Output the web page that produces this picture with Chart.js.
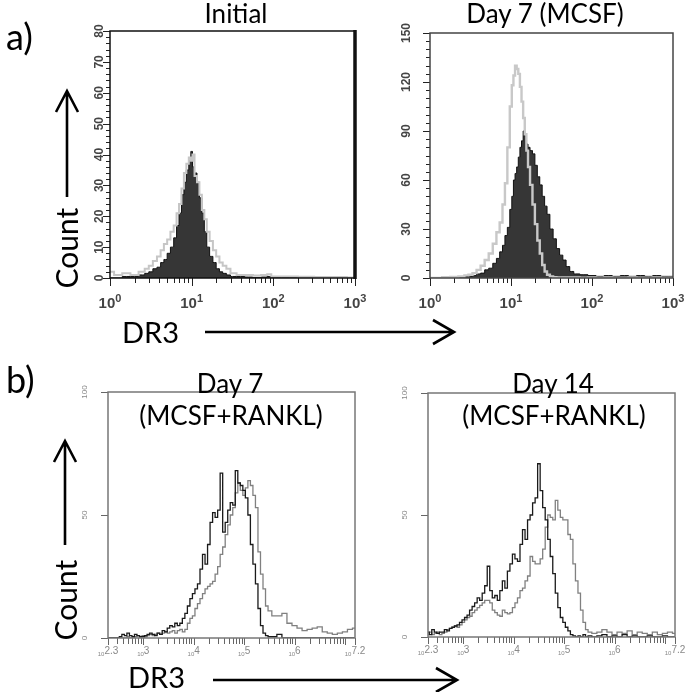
<!DOCTYPE html>
<html>
<head>
<meta charset="utf-8">
<script src="https://cdn.jsdelivr.net/npm/chart.js@4.4.1/dist/chart.umd.min.js"></script>
<style>
  body { margin: 0; background: #fff; }
  #fig { position: relative; width: 692px; height: 692px; overflow: hidden; font-family: Lato, "Open Sans", sans-serif; color: #000; }
  #fig canvas { position: absolute; left: 0; top: 0; }
  #fig svg { position: absolute; left: 0; top: 0; }
  .t { position: absolute; white-space: nowrap; line-height: 1; }
  .title { font-size: 26px; transform: translateX(-50%); }
  .tag { font-size: 36px; }
  .axl { font-size: 29px; }
  .cnt { font-size: 30px; transform: translate(-50%, -50%) rotate(-90deg); }
</style>
</head>
<body>
<div id="fig">
  <canvas id="aLeft" width="692" height="692"></canvas>
  <canvas id="aRight" width="692" height="692"></canvas>
  <canvas id="bLeft" width="692" height="692"></canvas>
  <canvas id="bRight" width="692" height="692"></canvas>

  <svg width="692" height="692" fill="none" stroke="#000" stroke-width="2.6">
    <path d="M67 197 V91 M56 112 L67 91 L78 112"/>
    <path d="M205 332 H454 M433 320 L454 332 L433 344"/>
    <path d="M65 545 V441 M54 462 L65 441 L76 462"/>
    <path d="M213 680 H457 M436 668 L457 680 L436 692"/>
  </svg>

  <div class="t tag" style="left:6px; top:18px;">a)</div>
  <div class="t tag" style="left:6px; top:361px;">b)</div>
  <div class="t title" style="left:236px; top:0px;">Initial</div>
  <div class="t title" style="left:545px; top:0px;">Day 7 (MCSF)</div>
  <div class="t title" style="left:230px; top:370px;">Day 7</div>
  <div class="t title" style="left:231px; top:402px;">(MCSF+RANKL)</div>
  <div class="t title" style="left:553px; top:370px;">Day 14</div>
  <div class="t title" style="left:554px; top:402px;">(MCSF+RANKL)</div>
  <div class="t cnt" style="left:66px; top:248px;">Count</div>
  <div class="t cnt" style="left:65px; top:600px;">Count</div>
  <div class="t axl" style="left:122px; top:317px;">DR3</div>
  <div class="t axl" style="left:128px; top:662px;">DR3</div>
</div>

<script>
// DR3 channel positions, as powers of ten
const aLeftBins = [0, 0.1, 0.2, 0.3, 0.4, 0.45, 0.5, 0.55, 0.6, 0.64, 0.68, 0.72, 0.76, 0.8, 0.83, 0.86, 0.89, 0.92, 0.95, 0.98,
  1.0, 1.02, 1.05, 1.08, 1.11, 1.14, 1.17, 1.2, 1.24, 1.28, 1.32, 1.36, 1.4, 1.45, 1.5, 1.6, 1.7, 1.8, 1.9, 1.95, 2.0, 2.2, 2.4, 2.6, 2.8, 3.0];
const aRightBins = [0, 0.1, 0.2, 0.3, 0.4, 0.45, 0.5, 0.55, 0.6, 0.65, 0.7, 0.75, 0.8, 0.84, 0.88, 0.91, 0.94, 0.97,
  1.0, 1.02, 1.04, 1.06, 1.08, 1.1, 1.12, 1.14, 1.16, 1.18, 1.2, 1.22, 1.25, 1.28, 1.31, 1.34, 1.37, 1.4, 1.43, 1.46,
  1.5, 1.54, 1.58, 1.62, 1.66, 1.7, 1.75, 1.8, 1.9, 2.0, 2.1, 2.2, 2.3, 2.4, 2.5, 2.6, 2.7, 2.8, 2.9, 3.0];
const bBins = [2.3, 2.35, 2.4, 2.45, 2.5, 2.55, 2.6, 2.65, 2.7, 2.75, 2.8, 2.85, 2.9, 2.95, 3.0, 3.05, 3.1, 3.15, 3.2, 3.25,
  3.3, 3.35, 3.4, 3.45, 3.5, 3.55, 3.6, 3.65, 3.7, 3.75, 3.8, 3.85, 3.9, 3.95, 4.0, 4.05, 4.1, 4.15, 4.2, 4.25, 4.3, 4.35,
  4.4, 4.45, 4.5, 4.55, 4.6, 4.65, 4.7, 4.75, 4.8, 4.85, 4.9, 4.95, 5.0, 5.05, 5.1, 5.15, 5.2, 5.25, 5.3, 5.35, 5.4, 5.45,
  5.5, 5.6, 5.7, 5.8, 5.9, 6.0, 6.1, 6.2, 6.3, 6.4, 6.5, 6.6, 6.7, 6.8, 6.9, 7.0, 7.1, 7.2];

// counts
const initialStained = [0, 0, 0.5, 0.5, 1, 1.5, 2, 3, 3.5, 5, 6, 8, 10, 13, 17, 21, 27, 31, 35, 38,
  41, 36, 34, 31, 26, 21, 15, 10, 7, 5, 3, 2, 1.5, 1, 0.5, 0.5, 0.3, 0.2, 0.3, 0.5, 0.2, 0.2, 0, 0, 0, 0];
const initialControl = [2, 1, 1.5, 1, 2, 3, 4, 5.5, 7, 9, 11, 12.5, 15, 17, 21, 24, 29, 34, 37, 39,
  38, 40, 33, 31, 27, 22, 19, 15, 12, 9, 7, 5, 4, 3, 1.5, 1, 1, 0.8, 1, 1.2, 0.5, 0.5, 0.4, 0.3, 0.3, 0.2];
const mcsfStained = [0, 0, 0.3, 0.5, 0.8, 1, 1, 1.5, 2.5, 3, 5, 6, 9, 12, 16, 20, 26, 31,
  42, 50, 60, 64, 68, 74, 80, 84, 90, 87, 82, 80, 78, 76, 69, 62, 57, 50, 44, 39,
  30, 24, 18, 14, 11, 7, 4, 2.5, 2, 1.5, 1, 1.5, 1, 1.5, 1, 1.5, 1, 1.5, 1, 1];
const mcsfControl = [0, 0, 0.5, 0.6, 1, 1.6, 2, 3, 5, 7.5, 11, 15, 21, 28, 34, 45, 58, 80,
  105, 118, 124, 130, 128, 125, 117, 108, 98, 88, 78, 68, 57, 45, 33, 23, 15, 8, 4, 2,
  1, 0.5, 0.4, 0.3, 0.3, 0.3, 0.3, 0.3, 0.2, 0.3, 0.2, 0.3, 0.2, 0.2, 0.3, 0.2, 0.2, 0.3, 0.2, 0.2];
const day7Black = [0, 0, 0, 0, 0, 0.5,
  1.5, 1, 2, 1, 0.5, 1.5, 1, 0.5,
  0.5, 1, 1.5, 2, 1.5, 1, 2, 1.5, 3, 2.5,
  4, 5, 4.5, 6, 5, 6, 8, 10, 13, 16,
  18, 20, 22, 28, 34, 30, 38, 47, 51, 49,
  52, 67, 43, 47, 52, 55, 54, 68, 63, 62,
  60, 57, 50, 38, 30, 22, 12, 5, 2, 1,
  0.5,
  0.5, 1.5, 0, 0, 0, 0, 0, 0, 0, 0, 0, 0, 0, 0, 0, 0, 0];
const day7Gray = [0, 0, 0, 0, 0, 0,
  0, 0, 0.5, 0, 0, 0.5, 1, 0.5,
  1, 0.5, 1, 1.5, 1, 1.5, 2, 1.5, 2, 2.5,
  2, 2.5, 3, 2, 3, 3.5, 2.5, 3.5, 6, 8,
  9, 12, 14, 16, 18, 20, 21, 22, 23, 26,
  29, 34, 37, 42, 46, 50, 53, 59, 63, 60,
  58, 61, 64, 62, 58, 53, 35, 26, 20, 13,
  11,
  9, 9, 10, 6, 5, 4, 3, 3.5, 4, 4.5, 2.5, 2, 1.5, 2, 2.5, 3.5, 4];
const day14Black = [2, 1, 3, 2, 1.5, 2,
  2, 3, 2.5, 3.5, 4, 4.5, 5, 6,
  7, 8, 9, 11, 12.5, 14, 16, 15, 18, 21,
  29, 19, 16, 17, 15, 19, 23, 20, 27, 30,
  34, 32, 31, 38, 44, 40, 48, 50, 55, 57,
  71, 60, 53, 48, 40, 33, 26, 18, 12, 8,
  6, 4, 2.5, 1, 0.5, 0, 0.5, 0, 1, 0,
  0.5,
  0, 0.5, 1, 0, 0.5, 0, 1, 0, 0.5, 0, 0, 0.5, 0, 0, 0.5, 0, 0];
const day14Gray = [1, 2, 1, 1.5, 2, 1,
  1.5, 2, 3, 3.5, 4, 4.5, 4, 5,
  6, 7, 8, 8.5, 10, 11, 12, 13, 14, 15,
  15, 14, 11, 10, 9, 8.5, 11, 10, 9.5, 10,
  12, 14, 16, 19, 20, 23, 25, 33, 31, 30,
  30, 32, 36, 45, 50, 49, 48, 56, 52, 49,
  48, 48, 42, 40, 30, 23, 18, 11, 6, 3,
  2,
  1.5, 2, 3, 2, 1, 2, 1.5, 2.5, 1, 2, 1.5, 1, 2, 1, 1.5, 2, 1.5];

// tick labels
const initialYTicks = [0, 10, 20, 30, 40, 50, 60, 70, 80];
const mcsfYTicks = [0, 30, 60, 90, 120, 150];
const bYTicks = [0, 50, 100];
const aXExps = ['0', '1', '2', '3'];
const bXExps = ['2.3', '3', '4', '5', '6', '7.2'];

const toPoints = (bins, counts) => bins.map((e, i) => ({ x: Math.pow(10, e), y: counts[i] }));

// frame, ticks and tick labels, placed with the chart's own scales
const panelAxes = {
  id: 'panelAxes',
  afterDatasetsDraw(chart, args, o) {
    const { ctx, chartArea: a } = chart;
    const x = chart.scales.x, y = chart.scales.y;
    ctx.save();
    ctx.strokeStyle = o.tickColor;
    ctx.lineWidth = o.tickWidth;
    ctx.beginPath();
    for (let v = 0; v <= y.max + 1e-6; v += o.yMinor) {
      const py = Math.round(y.getPixelForValue(v)) + 0.5;
      const len = o.yTicks.includes(v) ? o.yMajorLen : o.yMinorLen;
      ctx.moveTo(a.left - len, py);
      ctx.lineTo(a.left, py);
    }
    const lo = Math.log10(x.min), hi = Math.log10(x.max);
    for (let d = Math.floor(lo); d <= Math.ceil(hi); d++) {
      for (let m = 1; m < 10; m++) {
        const e = Math.log10(m) + d;
        if (e < lo - 1e-6 || e > hi + 1e-6) continue;
        const px = Math.round(x.getPixelForValue(m * Math.pow(10, d))) + 0.5;
        ctx.moveTo(px, a.bottom);
        ctx.lineTo(px, a.bottom + (m === 1 ? o.xMajorLen : o.xMinorLen));
      }
    }
    o.xLabels.forEach(e => {
      const px = Math.round(x.getPixelForValue(Math.pow(10, +e))) + 0.5;
      ctx.moveTo(px, a.bottom);
      ctx.lineTo(px, a.bottom + o.xMajorLen);
    });
    ctx.stroke();

    // frame
    ctx.strokeStyle = o.frameColor;
    ctx.lineWidth = o.frameWidth;
    ctx.strokeRect(a.left, a.top, a.right - a.left, a.bottom - a.top);
    if (o.rightWidth) {
      ctx.lineWidth = o.rightWidth;
      ctx.beginPath();
      ctx.moveTo(a.right, a.top - 1);
      ctx.lineTo(a.right, a.bottom + 1);
      ctx.stroke();
    }

    // y labels, rotated
    ctx.fillStyle = o.labelColor;
    ctx.font = o.yFont;
    ctx.textAlign = 'center';
    ctx.textBaseline = 'middle';
    o.yTicks.forEach(v => {
      const py = y.getPixelForValue(v);
      ctx.save();
      ctx.translate(o.yLabelX, py);
      ctx.rotate(-Math.PI / 2);
      ctx.fillText(String(v), 0, 0);
      ctx.restore();
    });

    // x labels: 10 with raised exponent
    ctx.textAlign = 'left';
    ctx.textBaseline = 'alphabetic';
    o.xLabels.forEach(e => {
      const px = x.getPixelForValue(Math.pow(10, +e));
      ctx.font = o.baseFont;
      const w1 = ctx.measureText('10').width;
      ctx.font = o.expFont;
      const w2 = ctx.measureText(e).width;
      const left = px - (w1 + w2) / 2;
      ctx.font = o.baseFont;
      ctx.fillText('10', left, o.xLabelY);
      ctx.font = o.expFont;
      ctx.fillText(e, left + w1, o.xLabelY - o.expRaise);
    });
    ctx.restore();
  }
};

function makePanel(id, box, xRange, yMax, datasets, axes) {
  return new Chart(document.getElementById(id), {
    type: 'line',
    data: { datasets },
    options: {
      responsive: false,
      animation: false,
      events: [],
      layout: { padding: { left: box[0], top: box[1], right: 692 - box[2], bottom: 692 - box[3] } },
      elements: { point: { radius: 0 }, line: { tension: 0 } },
      scales: {
        x: { type: 'logarithmic', display: false, min: Math.pow(10, xRange[0]), max: Math.pow(10, xRange[1]) },
        y: { type: 'linear', display: false, min: 0, max: yMax }
      },
      plugins: { legend: { display: false }, tooltip: { enabled: false }, panelAxes: axes }
    },
    plugins: [panelAxes]
  });
}

const aAxes = {
  tickColor: '#222', tickWidth: 1, yMajorLen: 7, yMinorLen: 4, xMajorLen: 8, xMinorLen: 5,
  frameColor: '#111', frameWidth: 1.5, labelColor: '#444',
  yFont: 'bold 12px "Liberation Sans Narrow", "Liberation Sans", sans-serif',
  baseFont: 'bold 15px "Liberation Sans Narrow", "Liberation Sans", sans-serif',
  expFont: 'bold 11px "Liberation Sans Narrow", "Liberation Sans", sans-serif',
  expRaise: 6, xLabelY: 308, xLabels: aXExps
};

makePanel('aLeft', [110, 31, 355, 278], [0, 3], 80, [
  { data: toPoints(aLeftBins, initialControl), stepped: 'middle', fill: false,
    borderColor: '#c6c6c6', borderWidth: 2, order: 1 },
  { data: toPoints(aLeftBins, initialStained), stepped: 'middle', fill: 'origin',
    backgroundColor: '#363636', borderColor: '#111', borderWidth: 1, order: 2 }
], Object.assign({}, aAxes, { yTicks: initialYTicks, yMinor: 2, yLabelX: 100, rightWidth: 3.5 }));

makePanel('aRight', [430, 33, 673, 278], [0, 3], 150, [
  { data: toPoints(aRightBins, mcsfControl), stepped: 'middle', fill: false,
    borderColor: '#c8c8c8', borderWidth: 2.4, order: 1 },
  { data: toPoints(aRightBins, mcsfStained), stepped: 'middle', fill: 'origin',
    backgroundColor: '#363636', borderColor: '#111', borderWidth: 1, order: 2 }
], Object.assign({}, aAxes, { yTicks: mcsfYTicks, yMinor: 5, yLabelX: 407, frameColor: '#444' }));

const bAxes = {
  tickColor: '#666', tickWidth: 1, yMajorLen: 7, yMinorLen: 0, xMajorLen: 7, xMinorLen: 6,
  frameColor: '#777', frameWidth: 1.5, labelColor: '#888', yTicks: bYTicks, yMinor: 50, yLabelX: 85,
  yFont: '8px "Liberation Sans", sans-serif',
  baseFont: '6px "Liberation Sans", sans-serif',
  expFont: '10px "Liberation Sans", sans-serif',
  expRaise: 2, xLabelY: 656, xLabels: bXExps
};

makePanel('bLeft', [108, 392, 355, 638], [2.3, 7.2], 100, [
  { data: toPoints(bBins, day7Black), stepped: 'middle', fill: false,
    borderColor: '#1a1a1a', borderWidth: 1.3, order: 1 },
  { data: toPoints(bBins, day7Gray), stepped: 'middle', fill: false,
    borderColor: '#808080', borderWidth: 1.3, order: 2 }
], bAxes);

makePanel('bRight', [428, 393, 675, 637], [2.3, 7.2], 100, [
  { data: toPoints(bBins, day14Black), stepped: 'middle', fill: false,
    borderColor: '#1a1a1a', borderWidth: 1.3, order: 1 },
  { data: toPoints(bBins, day14Gray), stepped: 'middle', fill: false,
    borderColor: '#808080', borderWidth: 1.3, order: 2 }
], Object.assign({}, bAxes, { yLabelX: 405, xLabelY: 655 }));
</script>
</body>
</html>
